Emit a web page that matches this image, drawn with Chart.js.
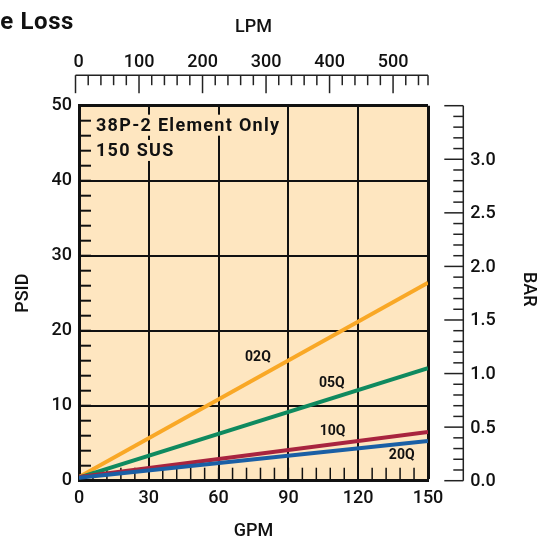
<!DOCTYPE html>
<html><head><meta charset="utf-8">
<script src="https://cdn.jsdelivr.net/npm/chart.js@4.4.1/dist/chart.umd.min.js"></script>
<style>html,body{margin:0;padding:0;background:#fff;} canvas{display:block;}</style>
</head><body>
<canvas id="c" width="541" height="546"></canvas>
<script>
// ---- data ----
const gpmPoints = [0, 150];
const psid02Q = [0.5, 26.4];
const psid05Q = [0.4, 15.0];
const psid10Q = [0.5, 6.5];
const psid20Q = [0.4, 5.3];
const seriesNames = ['02Q', '05Q', '10Q', '20Q'];
const seriesValues = [psid02Q, psid05Q, psid10Q, psid20Q];
const seriesColors = ['#F9A826', '#0F8A5F', '#A8243F', '#1A5FA5'];
const labelGpm = [76.9, 108.7, 109.0, 138.7];
const labelPsid = [16.4, 13.0, 6.5, 3.4];
const gpmTicks = [0, 30, 60, 90, 120, 150];
const psidTicks = [0, 10, 20, 30, 40, 50];
const lpmTicks = [0, 100, 200, 300, 400, 500];
const barTicks = [0.0, 0.5, 1.0, 1.5, 2.0, 2.5, 3.0];
const noteLines = ['38P-2 Element Only', '150 SUS'];
const noteGpm = 7.3;
const notePsid = [46.67, 43.3];
const titleText = 'e Loss';

const BG = '#FEE6C0';
const INK = '#111111';
const FONT = 'Roboto';

Chart.defaults.font.family = FONT;
Chart.defaults.font.size = 18;
Chart.defaults.font.weight = '500';
Chart.defaults.color = INK;

function seg(ctx, x1, y1, x2, y2) { ctx.beginPath(); ctx.moveTo(x1, y1); ctx.lineTo(x2, y2); ctx.stroke(); }

const deco = {
  id: 'deco',
  beforeDraw(chart) {
    const { ctx, chartArea: a } = chart;
    ctx.save();
    ctx.fillStyle = BG;
    ctx.fillRect(a.left, a.top, a.right - a.left, a.bottom - a.top);
    ctx.restore();
  },
  beforeDatasetsDraw(chart) {
    const { ctx, chartArea: a, scales: { x, y } } = chart;
    ctx.save();
    ctx.strokeStyle = INK;
    ctx.lineWidth = 2;
    for (let v = 0; v <= 50; v += 2) { const py = y.getPixelForValue(v); seg(ctx, a.left, py, a.left + 12, py); }
    ctx.lineWidth = 1.5;
    for (let v = 0; v <= 150; v += 6) { const px = x.getPixelForValue(v); seg(ctx, px, a.bottom, px, a.bottom - 13); }
    ctx.restore();
  },
  afterDatasetsDraw(chart) {
    const { ctx, chartArea: a, scales: { x, y } } = chart;
    ctx.save();
    ctx.font = 'bold 18px ' + FONT;
    if ('letterSpacing' in ctx) ctx.letterSpacing = '1.3px';
    ctx.textBaseline = 'alphabetic';
    ctx.textAlign = 'left';
    noteLines.forEach((t, i) => {
      const tx = x.getPixelForValue(noteGpm), ty = y.getPixelForValue(notePsid[i]);
      const w = ctx.measureText(t).width;
      ctx.fillStyle = BG;
      ctx.fillRect(tx - 3, ty - 16, w + 5, 21);
      ctx.fillStyle = INK;
      ctx.fillText(t, tx, ty);
    });
    if ('letterSpacing' in ctx) ctx.letterSpacing = '0px';
    ctx.font = 'bold 14px ' + FONT;
    ctx.textAlign = 'center';
    ctx.textBaseline = 'middle';
    ctx.fillStyle = INK;
    seriesNames.forEach((n, i) => {
      ctx.fillText(n, x.getPixelForValue(labelGpm[i]), y.getPixelForValue(labelPsid[i]));
    });
    ctx.restore();
  },
  afterDraw(chart) {
    const { ctx, chartArea: a } = chart;
    const sL = chart.scales.xLpm, sB = chart.scales.yBar;
    ctx.save();
    ctx.font = 'bold 24px ' + FONT;
    if ('letterSpacing' in ctx) ctx.letterSpacing = '0.6px';
    ctx.fillStyle = INK;
    ctx.textAlign = 'right';
    ctx.textBaseline = 'alphabetic';
    ctx.fillText(titleText, 74, 29);
    if ('letterSpacing' in ctx) ctx.letterSpacing = '0px';

    const yl = a.top - 30.5;
    ctx.strokeStyle = '#222';
    ctx.lineWidth = 1.5;
    const x0 = sL.getPixelForValue(0), xEnd = sL.getPixelForValue(sL.max);
    seg(ctx, x0, yl, xEnd, yl);
    for (let v = 0; v <= sL.max - 10; v += 20) {
      const px = sL.getPixelForValue(v);
      seg(ctx, px, yl, px, yl + (v % 100 === 0 ? 18 : 10));
    }
    seg(ctx, xEnd, yl, xEnd, yl + 10);
    ctx.font = '500 18px ' + FONT;
    ctx.textAlign = 'center';
    ctx.textBaseline = 'alphabetic';
    lpmTicks.forEach(v => ctx.fillText(String(v), sL.getPixelForValue(v) + (v === 0 ? 3 : 0), yl - 8.5));
    ctx.fillText('LPM', (a.left + a.right) / 2, 32);

    const xb = a.right + 35.3;
    seg(ctx, xb, sB.getPixelForValue(sB.max), xb, sB.getPixelForValue(0));
    for (let k = 0; k <= 35; k++) {
      const py = sB.getPixelForValue(k / 10);
      seg(ctx, xb - (k % 5 === 0 ? 19 : 10), py, xb, py);
    }
    ctx.textAlign = 'left';
    ctx.textBaseline = 'middle';
    barTicks.forEach(v => ctx.fillText(v.toFixed(1), xb + 7, sB.getPixelForValue(v) + 1));
    ctx.save();
    ctx.translate(528, (a.top + a.bottom) / 2 - 4);
    ctx.rotate(Math.PI / 2);
    ctx.textAlign = 'center';
    ctx.fillText('BAR', 0, 0);
    ctx.restore();
    ctx.restore();
  }
};

const datasets = seriesNames.map((n, i) => ({
  label: n,
  data: gpmPoints.map((g, j) => ({ x: g, y: seriesValues[i][j] })),
  borderColor: seriesColors[i],
  backgroundColor: seriesColors[i],
  borderWidth: 4,
  pointRadius: 0,
  tension: 0,
  fill: false,
  order: 3 - i
}));

new Chart(document.getElementById('c'), {
  type: 'line',
  data: { datasets },
  options: {
    responsive: false,
    animation: false,
    devicePixelRatio: 1,
    layout: { padding: { left: 0, right: 113, top: 105.7, bottom: 0 } },
    plugins: { legend: { display: false }, tooltip: { enabled: false }, title: { display: false } },
    scales: {
      x: {
        type: 'linear', position: 'bottom', min: 0, max: 150,
        afterBuildTicks: s => { s.ticks = gpmTicks.map(v => ({ value: v })); },
        afterFit: s => { s.height = 65.3; },
        ticks: { padding: 7, color: INK, font: { size: 18, weight: '500' } },
        grid: { color: INK, lineWidth: c => (c.tick && c.tick.value === 150 ? 3 : 2), drawTicks: false },
        border: { display: true, color: INK, width: 3 },
        title: { display: true, text: 'GPM', color: INK, font: { size: 18, weight: '500' }, padding: { top: 0, bottom: 4 } }
      },
      y: {
        type: 'linear', position: 'left', min: 0, max: 50,
        afterBuildTicks: s => { s.ticks = psidTicks.map(v => ({ value: v })); },
        afterFit: s => { s.width = 79; },
        ticks: { padding: 7, color: INK, font: { size: 18, weight: '500' } },
        grid: { color: INK, lineWidth: c => (c.tick && c.tick.value === 50 ? 3 : 2), drawTicks: false },
        border: { display: true, color: INK, width: 3 },
        title: { display: true, text: 'PSID', color: INK, font: { size: 18, weight: '500' }, padding: { top: 13, bottom: 0 } }
      },
      xLpm: { type: 'linear', position: 'top', display: false, min: 5.5, max: 555 },
      yBar: { type: 'linear', position: 'right', display: false, min: 0, max: 3.5 }
    }
  },
  plugins: [deco]
});
</script>
</body></html>
